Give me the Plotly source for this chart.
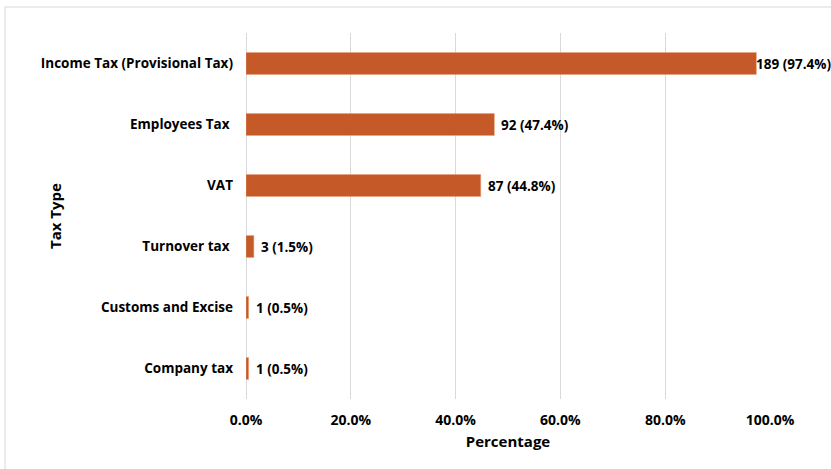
import plotly.graph_objects as go

categories = ["Income Tax (Provisional Tax)", "Employees Tax ", "VAT", "Turnover tax ", "Customs and Excise", "Company tax"]
counts = [189, 92, 87, 3, 1, 1]
percentages = [97.4, 47.4, 44.8, 1.5, 0.5, 0.5]
x_ticks = [0, 0.2, 0.4, 0.6, 0.8, 1.0]

FONT = "Open Sans"
bar_color = "#C55A28"

cats = categories[::-1]
vals = [p / 100 for p in percentages][::-1]
labels = [f"{c} ({p}%)" for c, p in zip(counts, percentages)][::-1]

fig = go.Figure(go.Bar(
    y=cats, x=vals, orientation="h",
    marker=dict(color=bar_color, line=dict(color="#E8A07A", width=0.5)),
    width=0.36,
))

annotations = [dict(
    x=v, y=c, xref="x", yref="y", text=t, showarrow=False,
    xanchor="left", yanchor="middle", xshift=(-1 if v > 0.9 else 6), borderpad=0,
    font=dict(family=FONT, size=13.5, color="#000000", weight="bold"),
) for v, c, t in zip(vals, cats, labels)]

annotations.append(dict(
    text="Tax Type", xref="paper", yref="paper", x=-(246 - 55) / 524, y=0.5,
    textangle=-90, showarrow=False, xanchor="center", yanchor="middle",
    font=dict(family=FONT, size=15, color="#000000", weight="bold"),
))

fig.update_layout(
    width=831, height=469,
    margin=dict(l=246, r=61, t=33, b=70),
    paper_bgcolor="white", plot_bgcolor="white",
    showlegend=False,
    font=dict(family=FONT, size=13, color="#000000"),
    xaxis=dict(
        range=[0, 1.0], tickvals=x_ticks, tickformat=".1%",
        showgrid=True, gridcolor="#D9D9D9", gridwidth=1,
        zeroline=True, zerolinecolor="#D9D9D9", zerolinewidth=1,
        showline=False,
        tickfont=dict(family=FONT, size=14, color="#000000", weight="bold"),
        ticks="", ticklabelstandoff=11,
        title=dict(text="Percentage", font=dict(family=FONT, size=15, color="#000000", weight="bold"), standoff=8),
        fixedrange=True,
    ),
    yaxis=dict(
        showgrid=False, showline=False, ticks="",
        tickfont=dict(family=FONT, size=13.5, color="#000000", weight="bold"),
        ticklabelstandoff=12,
        automargin=False,
    ),
    annotations=annotations,
    shapes=[
        dict(type="line", xref="paper", yref="paper", x0=-(246 - 5) / 524, x1=(831 - 246) / 524,
             y0=(469 - 70 - 7) / 366, y1=(469 - 70 - 7) / 366, line=dict(color="#D9D9D9", width=1)),
        dict(type="line", xref="paper", yref="paper", x0=-(246 - 5) / 524, x1=-(246 - 5) / 524,
             y0=(469 - 70 - 7) / 366, y1=-70 / 366, line=dict(color="#D9D9D9", width=1)),
    ],
)

fig.write_html("out.html")
